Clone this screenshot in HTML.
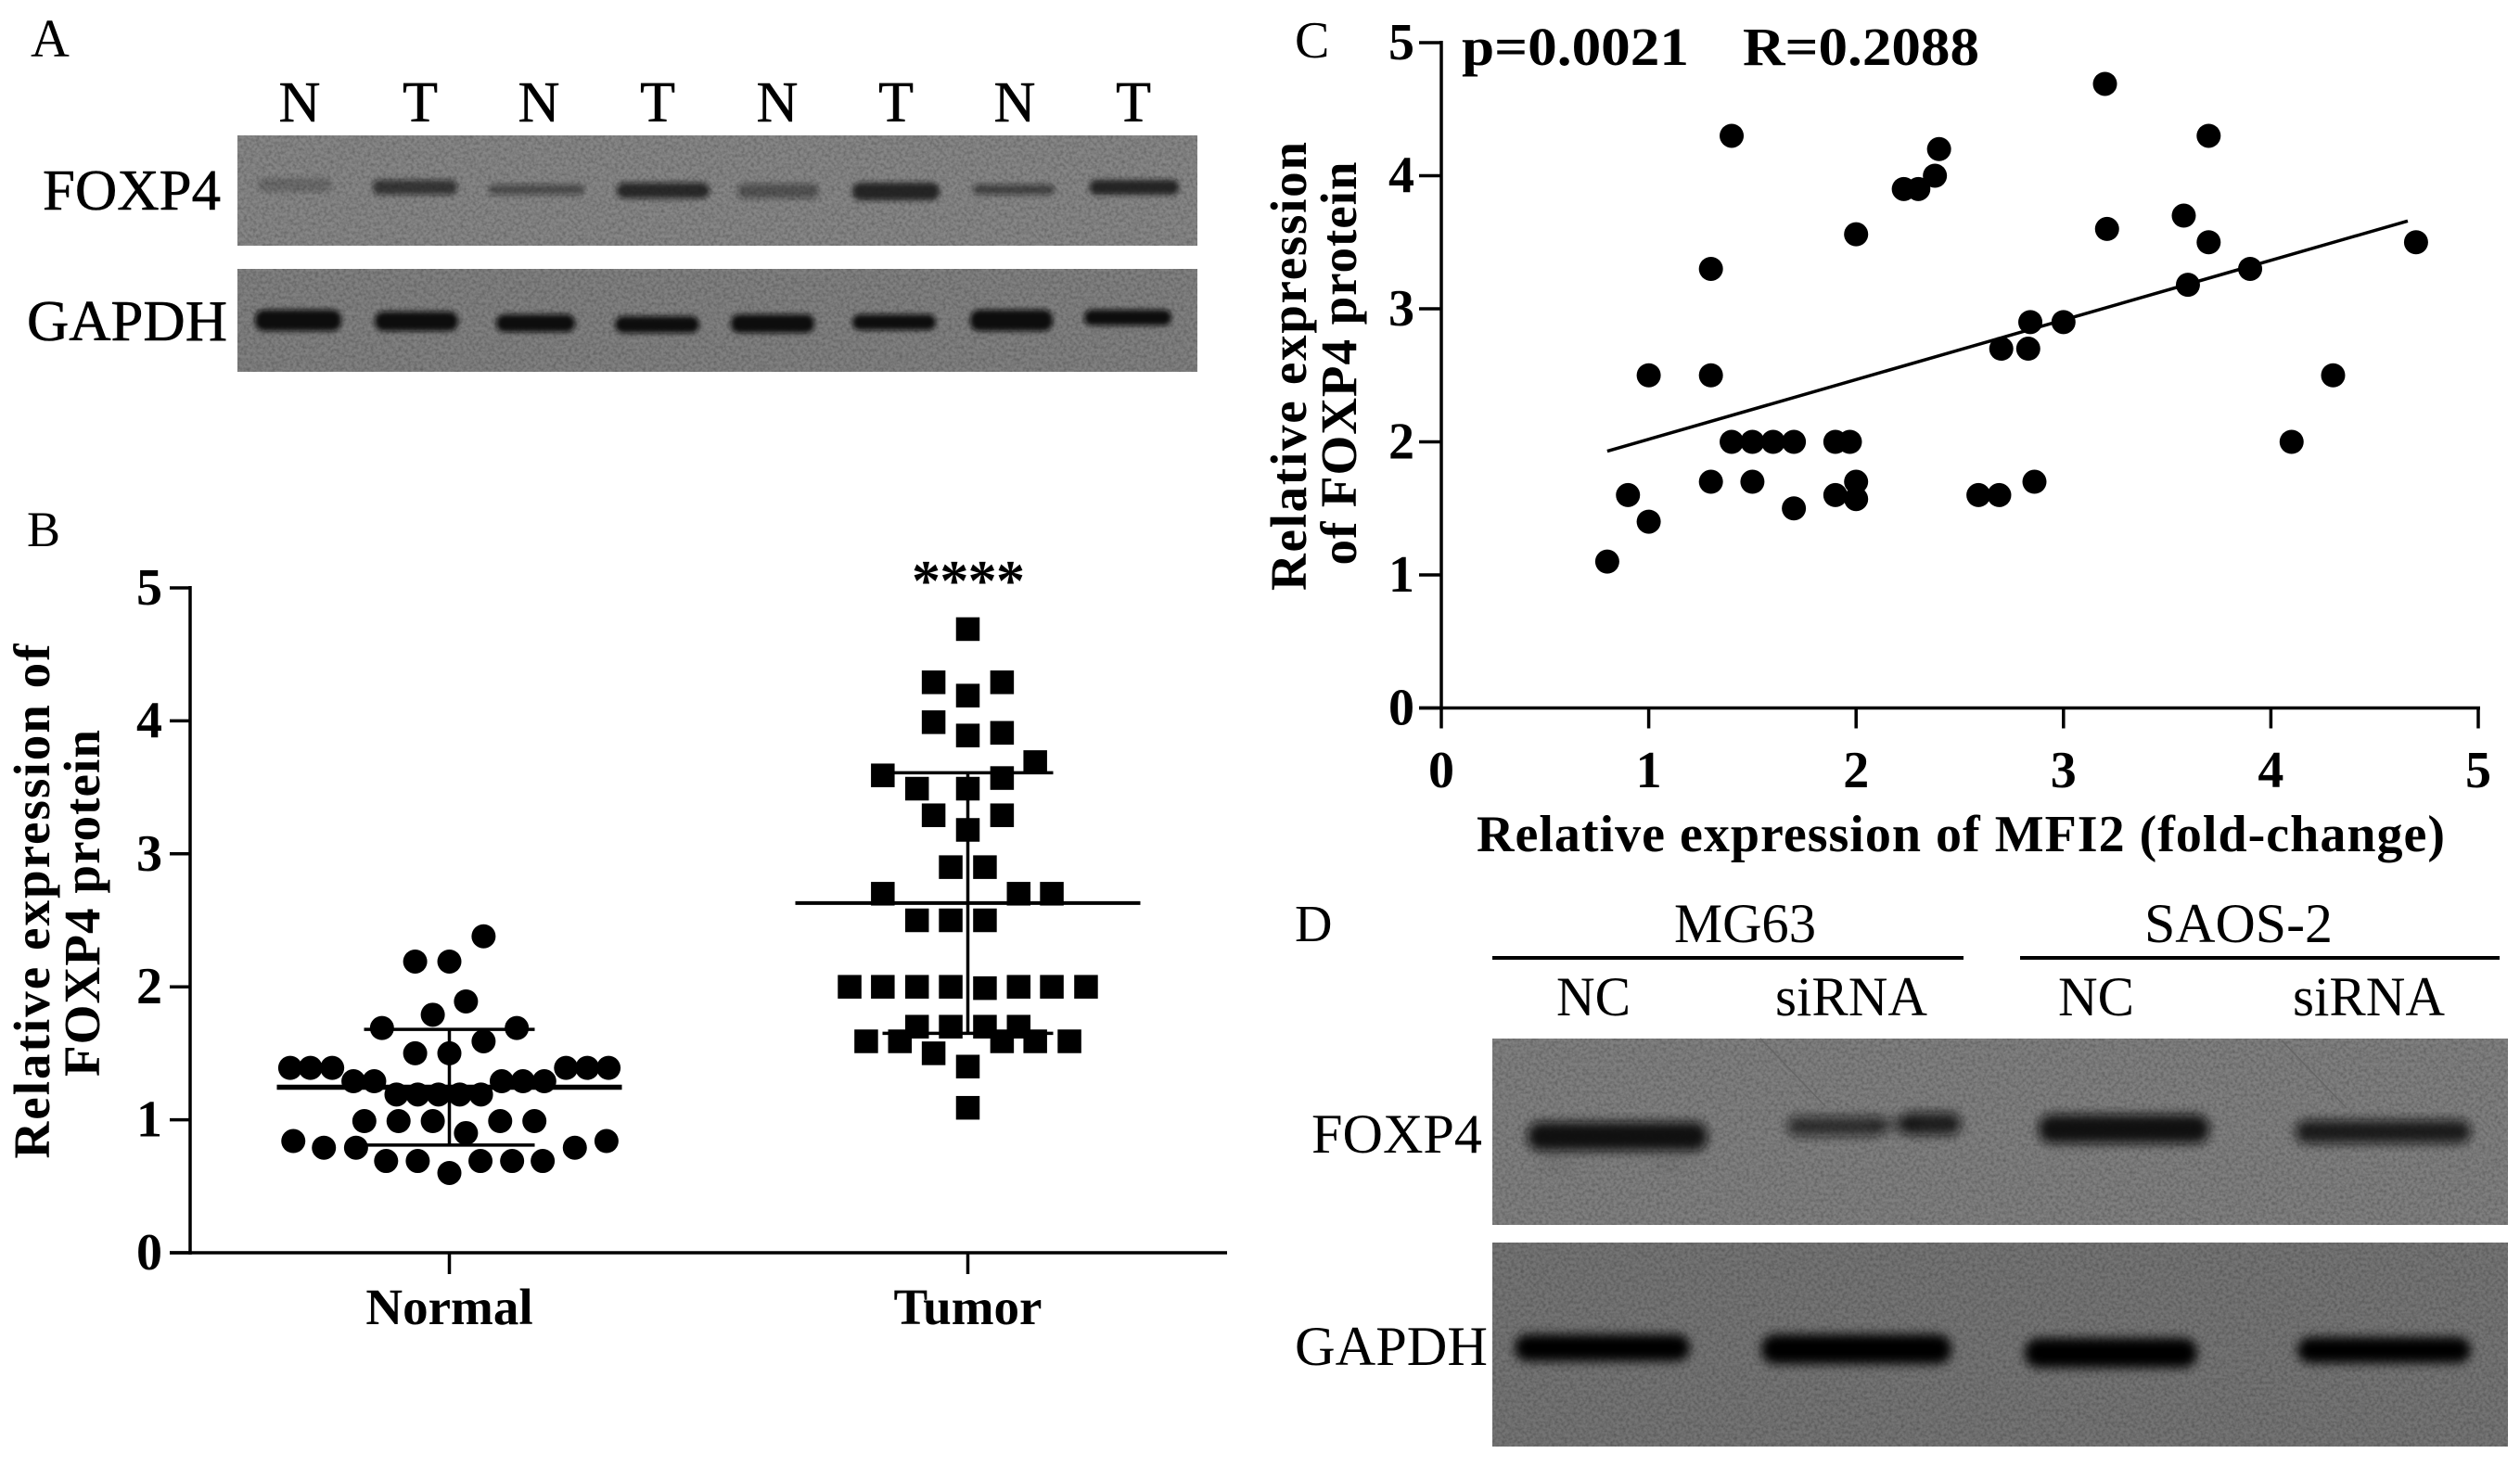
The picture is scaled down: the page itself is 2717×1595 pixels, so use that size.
<!DOCTYPE html>
<html lang="en">
<head>
<meta charset="utf-8">
<title>FOXP4 expression figure</title>
<style>
html,body{margin:0;padding:0;background:#fff;}
svg{display:block;}
text{font-family:"Liberation Serif",serif;fill:#000;}
.b{font-weight:bold;}
.h{stroke:#000;stroke-width:.6px;}
</style>
</head>
<body>
<svg id="fig" xmlns="http://www.w3.org/2000/svg" width="2717" height="1595" viewBox="0 0 2717 1595">
<defs>
<filter id="blurA" x="-30%" y="-150%" width="160%" height="400%"><feGaussianBlur stdDeviation="2.8"/></filter>
<filter id="blurD" x="-30%" y="-150%" width="160%" height="400%"><feGaussianBlur stdDeviation="5.5"/></filter>
<filter id="grain" x="0" y="0" width="100%" height="100%"><feTurbulence type="fractalNoise" baseFrequency=".3" numOctaves="2" seed="7"/><feColorMatrix type="matrix" values="0 0 0 0 0  0 0 0 0 0  0 0 0 0 0  .45 0 0 0 -.16"/></filter>
</defs>
<rect width="2717" height="1595" fill="#fff"/>

<!-- Panel A -->
<g id="panel-a">
<text x="33" y="61" font-size="58">A</text>
<g font-size="62" text-anchor="middle" class="h">
<text x="323" y="131">N</text>
<text x="453" y="131">T</text>
<text x="581" y="131">N</text>
<text x="709" y="131">T</text>
<text x="838" y="131">N</text>
<text x="966" y="131">T</text>
<text x="1094" y="131">N</text>
<text x="1222" y="131">T</text>
</g>
<text x="46" y="226" font-size="62" class="h" textLength="192" lengthAdjust="spacingAndGlyphs">FOXP4</text>
<text x="29" y="367" font-size="62" class="h" textLength="216" lengthAdjust="spacingAndGlyphs">GAPDH</text>
<rect x="256" y="146" width="1035" height="119" fill="#868686"/>
<rect x="256" y="146" width="1035" height="119" filter="url(#grain)"/>
<g fill="#151515" filter="url(#blurA)">
<rect x="278" y="192" width="80" height="15" rx="7" opacity=".2"/>
<rect x="402" y="194" width="91" height="16" rx="7" opacity=".68"/>
<rect x="527" y="199" width="103" height="11" rx="5" opacity=".5"/>
<rect x="665" y="197" width="100" height="17" rx="8" opacity=".78"/>
<rect x="795" y="198" width="88" height="16" rx="8" opacity=".45"/>
<rect x="919" y="197" width="94" height="19" rx="9" opacity=".88"/>
<rect x="1049" y="199" width="88" height="11" rx="5" opacity=".58"/>
<rect x="1175" y="194" width="96" height="16" rx="7" opacity=".88"/>
</g>
<rect x="256" y="290" width="1035" height="111" fill="#808080"/>
<rect x="256" y="290" width="1035" height="111" filter="url(#grain)"/>
<g fill="#0a0a0a" filter="url(#blurA)">
<rect x="275" y="334" width="93" height="23" rx="10"/>
<rect x="404" y="336" width="90" height="21" rx="10"/>
<rect x="535" y="339" width="85" height="19" rx="9"/>
<rect x="663" y="341" width="91" height="18" rx="9"/>
<rect x="788" y="339" width="90" height="20" rx="9"/>
<rect x="919" y="339" width="90" height="17" rx="8"/>
<rect x="1046" y="334" width="89" height="23" rx="10"/>
<rect x="1169" y="334" width="94" height="17" rx="8"/>
</g>
</g>

<!-- Panel B -->
<g id="panel-b">
<text x="29" y="589" font-size="54">B</text>
<text transform="translate(53,972) rotate(-90)" text-anchor="middle" class="b" font-size="55" textLength="555" lengthAdjust="spacing">Relative expression of</text>
<text transform="translate(107,974) rotate(-90)" text-anchor="middle" class="b" font-size="55" textLength="374" lengthAdjust="spacing">FOXP4 protein</text>
<g id="b-axes"></g>
<g id="b-marks"></g>
<g id="b-summary"></g>
<text x="1044" y="647" text-anchor="middle" class="b" font-size="62" textLength="122" lengthAdjust="spacing">****</text>
</g>

<!-- Panel C -->
<g id="panel-c">
<text x="1396" y="62" font-size="56">C</text>
<text x="1576" y="70" class="b" font-size="58" textLength="245" lengthAdjust="spacingAndGlyphs">p=0.0021</text>
<text x="1879" y="70" class="b" font-size="58" textLength="255" lengthAdjust="spacingAndGlyphs">R=0.2088</text>
<text transform="translate(1408,395) rotate(-90)" text-anchor="middle" class="b" font-size="55" textLength="484" lengthAdjust="spacing">Relative expression</text>
<text transform="translate(1462,392) rotate(-90)" text-anchor="middle" class="b" font-size="55" textLength="435" lengthAdjust="spacing">of FOXP4 protein</text>
<text x="1592" y="918" class="b" font-size="56" textLength="1044" lengthAdjust="spacing">Relative expression of MFI2 (fold-change)</text>
<g id="c-axes"></g>
<g id="c-marks"></g>
</g>

<!-- Panel D -->
<g id="panel-d">
<text x="1396" y="1015" font-size="56">D</text>
<text x="1805" y="1016" font-size="60" textLength="153" lengthAdjust="spacingAndGlyphs">MG63</text>
<text x="2312" y="1016" font-size="60" textLength="203" lengthAdjust="spacingAndGlyphs">SAOS-2</text>
<rect x="1609" y="1031" width="508" height="4" fill="#000"/>
<rect x="2178" y="1031" width="517" height="4" fill="#000"/>
<text x="1678" y="1095" font-size="60" textLength="80" lengthAdjust="spacingAndGlyphs">NC</text>
<text x="1914" y="1095" font-size="60" textLength="164" lengthAdjust="spacingAndGlyphs">siRNA</text>
<text x="2219" y="1095" font-size="60" textLength="82" lengthAdjust="spacingAndGlyphs">NC</text>
<text x="2472" y="1095" font-size="60" textLength="164" lengthAdjust="spacingAndGlyphs">siRNA</text>
<text x="1414" y="1243" font-size="60" textLength="184" lengthAdjust="spacingAndGlyphs">FOXP4</text>
<text x="1396" y="1472" font-size="60" textLength="208" lengthAdjust="spacingAndGlyphs">GAPDH</text>
<rect x="1609" y="1120" width="1095" height="201" fill="#7f7f7f"/>
<rect x="1609" y="1120" width="1095" height="201" filter="url(#grain)"/>
<path d="M1898 1120L1968 1193M2460 1122L2530 1195" stroke="#666" stroke-width="1.5" fill="none"/>
<g fill="#0d0d0d" filter="url(#blurD)">
<rect x="1647" y="1210" width="194" height="31" rx="14" opacity=".97"/>
<rect x="1927" y="1204" width="105" height="21" rx="10" opacity=".72"/>
<rect x="2020" y="1206" width="50" height="13" rx="6" opacity=".5"/>
<rect x="2048" y="1200" width="66" height="24" rx="11" opacity=".85"/>
<rect x="2198" y="1202" width="184" height="31" rx="14" opacity=".97"/>
<rect x="2475" y="1208" width="189" height="25" rx="12" opacity=".88"/>
<rect x="1660" y="1250" width="40" height="14" rx="7" opacity=".05"/>
<rect x="1780" y="1250" width="40" height="14" rx="7" opacity=".05"/>
</g>
<rect x="1609" y="1340" width="1095" height="220" fill="#747474"/>
<rect x="1609" y="1340" width="1095" height="220" filter="url(#grain)"/>
<g fill="#050505" filter="url(#blurD)">
<rect x="1633" y="1439" width="189" height="29" rx="14"/>
<rect x="1899" y="1439" width="205" height="32" rx="15"/>
<rect x="2183" y="1443" width="186" height="32" rx="15"/>
<rect x="2477" y="1442" width="187" height="28" rx="14"/>
</g>
</g>
</svg>

<script>
/* Panel B data */
var bCategories = ['Normal', 'Tumor'];
var bYTicks = ['0', '1', '2', '3', '4', '5'];
var normalValues = [2.38, 2.19, 2.19, 1.89, 1.79, 1.69, 1.69, 1.59, 1.50, 1.50, 1.39, 1.39, 1.39, 1.39, 1.39, 1.39, 1.29, 1.29, 1.29, 1.29, 1.29, 1.19, 1.19, 1.19, 1.19, 1.19, 0.99, 0.99, 0.99, 0.99, 0.99, 0.90, 0.84, 0.84, 0.79, 0.79, 0.79, 0.69, 0.69, 0.69, 0.69, 0.69, 0.60];
var normalJitter = [0.066, -0.066, 0, 0.032, -0.032, -0.130, 0.130, 0.066, -0.066, 0, -0.307, -0.268, -0.226, 0.225, 0.266, 0.307, -0.185, -0.145, 0.101, 0.142, 0.183, -0.102, -0.061, -0.021, 0.020, 0.061, -0.164, -0.098, -0.032, 0.098, 0.164, 0.032, -0.301, 0.303, -0.242, -0.180, 0.242, -0.122, -0.061, 0.060, 0.121, 0.180, 0];
var tumorValues = [4.69, 4.29, 4.29, 4.19, 3.99, 3.89, 3.91, 3.69, 3.59, 3.57, 3.49, 3.49, 3.29, 3.29, 3.18, 2.90, 2.90, 2.70, 2.70, 2.70, 2.50, 2.50, 2.50, 2.00, 2.00, 2.00, 2.00, 1.99, 2.00, 2.00, 2.00, 1.70, 1.70, 1.70, 1.70, 1.59, 1.59, 1.59, 1.59, 1.59, 1.50, 1.40, 1.09];
var tumorJitter = [0, -0.066, 0.066, 0, -0.066, 0, 0.066, 0.130, -0.164, 0.066, -0.098, 0, -0.066, 0.066, 0, -0.033, 0.033, -0.164, 0.098, 0.162, -0.098, -0.033, 0.033, -0.228, -0.164, -0.098, -0.033, 0.033, 0.098, 0.162, 0.228, -0.098, -0.033, 0.033, 0.098, -0.196, -0.131, 0.066, 0.130, 0.196, -0.066, 0, 0];
var bMeans = [1.245, 2.63];
var bSdUpper = [1.68, 3.61];
var bSdLower = [0.81, 1.65];

/* Panel C data */
var cXTicks = ['0', '1', '2', '3', '4', '5'];
var cYTicks = ['0', '1', '2', '3', '4', '5'];
var mfi2Values = [0.8, 0.9, 1.0, 1.0, 1.3, 1.3, 1.3, 1.4, 1.4, 1.5, 1.5, 1.6, 1.7, 1.7, 1.9, 1.97, 1.9, 2.0, 2.0, 2.0, 2.23, 2.3, 2.38, 2.4, 2.59, 2.69, 2.7, 2.83, 2.84, 2.86, 3.0, 3.2, 3.21, 3.58, 3.6, 3.7, 3.7, 3.9, 4.1, 4.3, 4.7];
var foxp4Values = [1.1, 1.6, 1.4, 2.5, 3.3, 2.5, 1.7, 4.3, 2.0, 2.0, 1.7, 2.0, 2.0, 1.5, 2.0, 2.0, 1.6, 1.57, 1.7, 3.56, 3.9, 3.9, 4.0, 4.2, 1.6, 1.6, 2.7, 2.7, 2.9, 1.7, 2.9, 4.69, 3.6, 3.7, 3.18, 4.3, 3.5, 3.3, 2.0, 2.5, 3.5];
var trendX = [0.8, 4.66];
var trendY = [1.93, 3.66];

var SVGNS = 'http://www.w3.org/2000/svg';
function make(tag, attrs, parent, txt) {
  var el = document.createElementNS(SVGNS, tag);
  for (var k in attrs) { el.setAttribute(k, attrs[k]); }
  if (txt !== undefined) { el.textContent = txt; }
  parent.appendChild(el);
  return el;
}
function linear(d0, d1, r0, r1) {
  return function (v) { return r0 + (v - d0) * (r1 - r0) / (d1 - d0); };
}

/* ---------- Panel B ---------- */
var bx = linear(0, 1, 484.5, 1043.5);
var by = linear(0, 5, 1351, 634);
var bAxes = document.getElementById('b-axes');
var bMarks = document.getElementById('b-marks');
var bSummary = document.getElementById('b-summary');

var bYAxis = make('line', {x1: 205, x2: 205, y1: by(5) - 2, y2: by(0) + 2, stroke: '#000', 'stroke-width': 3.5}, bAxes);


var bXAxis = make('line', {x1: 183, x2: 1323, y1: by(0), y2: by(0), stroke: '#000', 'stroke-width': 3.5}, bAxes);



bYTicks.forEach(function (t) {
  var y = by(Number(t));
  var tick = make('line', {x1: 183, x2: 205, y1: y, y2: y, stroke: '#000', 'stroke-width': 3.5}, bAxes);
  
  
  var label = make('text', {x: 175, y: y + 18, 'text-anchor': 'end', 'font-size': 56, 'class': 'b'}, bAxes, t);
  
  
});
bCategories.forEach(function (c, i) {
  var x = bx(i);
  var tick = make('line', {x1: x, x2: x, y1: by(0), y2: by(0) + 23, stroke: '#000', 'stroke-width': 3.5}, bAxes);
  
  
  var label = make('text', {x: x, y: 1428, 'text-anchor': 'middle', 'font-size': 55, 'class': 'b'}, bAxes, c);
  
  
});

normalValues.forEach(function (v, i) {
  var dot = make('circle', {cx: bx(0 + normalJitter[i]), cy: by(v), r: 13, fill: '#000'}, bMarks);
  
  
});
tumorValues.forEach(function (v, i) {
  var s = 25.5;
  var sq = make('rect', {x: bx(1 + tumorJitter[i]) - s / 2, y: by(v) - s / 2, width: s, height: s, fill: '#000'}, bMarks);
  
  
});
bCategories.forEach(function (c, i) {
  var cx = bx(i);
  var mean = make('line', {x1: cx - 186, x2: cx + 186, y1: by(bMeans[i]), y2: by(bMeans[i]), stroke: '#000', 'stroke-width': i === 0 ? 5.5 : 4}, bSummary);
  
  
  var stem = make('line', {x1: cx, x2: cx, y1: by(bSdUpper[i]), y2: by(bSdLower[i]), stroke: '#000', 'stroke-width': 3.5}, bSummary);
  
  
  var up = make('line', {x1: cx - 92, x2: cx + 92, y1: by(bSdUpper[i]), y2: by(bSdUpper[i]), stroke: '#000', 'stroke-width': 3.5}, bSummary);
  
  
  var low = make('line', {x1: cx - 92, x2: cx + 92, y1: by(bSdLower[i]), y2: by(bSdLower[i]), stroke: '#000', 'stroke-width': 3.5}, bSummary);
  
  
});

/* ---------- Panel C ---------- */
var cx = linear(0, 5, 1554, 2672);
var cy = linear(0, 5, 763.5, 46);
var cAxes = document.getElementById('c-axes');
var cMarks = document.getElementById('c-marks');

var cYAxis = make('line', {x1: cx(0), x2: cx(0), y1: cy(5) - 2, y2: cy(0) + 2, stroke: '#000', 'stroke-width': 3.5}, cAxes);


var cXAxis = make('line', {x1: cx(0) - 24, x2: cx(5) + 2, y1: cy(0), y2: cy(0), stroke: '#000', 'stroke-width': 3.5}, cAxes);



cYTicks.forEach(function (t) {
  var y = cy(Number(t));
  var tick = make('line', {x1: cx(0) - 24, x2: cx(0), y1: y, y2: y, stroke: '#000', 'stroke-width': 3.5}, cAxes);
  
  
  var label = make('text', {x: 1525, y: y + 18, 'text-anchor': 'end', 'font-size': 56, 'class': 'b'}, cAxes, t);
  
  
});
cXTicks.forEach(function (t) {
  var x = cx(Number(t));
  var tick = make('line', {x1: x, x2: x, y1: cy(0), y2: cy(0) + 22, stroke: '#000', 'stroke-width': 3.5}, cAxes);
  
  
  var label = make('text', {x: x, y: 849, 'text-anchor': 'middle', 'font-size': 56, 'class': 'b'}, cAxes, t);
  
  
});

var trend = make('line', {x1: cx(trendX[0]), y1: cy(trendY[0]), x2: cx(trendX[1]), y2: cy(trendY[1]), stroke: '#000', 'stroke-width': 3.5}, cMarks);



mfi2Values.forEach(function (v, i) {
  var dot = make('circle', {cx: cx(v), cy: cy(foxp4Values[i]), r: 13, fill: '#000'}, cMarks);
  
  
});
</script>
</body>
</html>
